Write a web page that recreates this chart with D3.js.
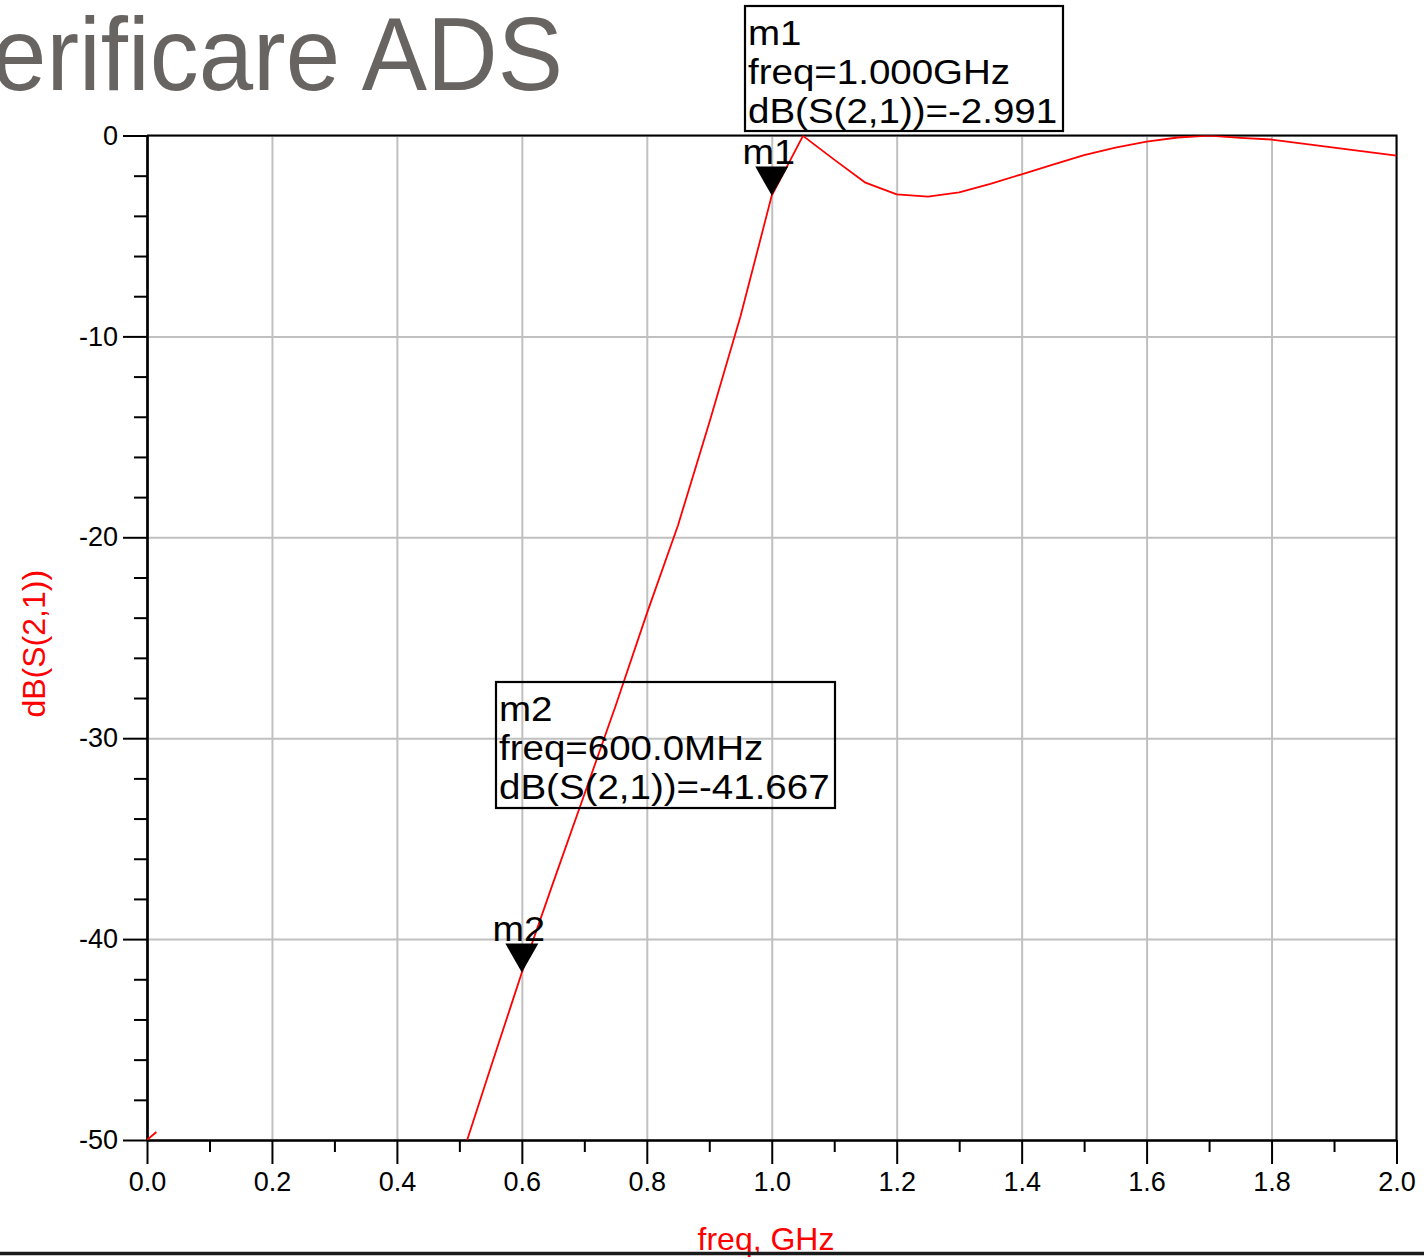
<!DOCTYPE html>
<html lang="ro">
<head>
<meta charset="UTF-8">
<script src="https://d3js.org/d3.v7.min.js"></script>
<style>
  body { margin: 0; background: #fff; overflow: hidden; }
  svg { display: block; font-family: "Liberation Sans", Arial, sans-serif; }
</style>
</head>
<body>
<svg id="chart" width="1424" height="1259"></svg>
<script>
// S21 sweep (GHz, dB)
const freqGHz = [0.50, 0.55, 0.60, 0.65, 0.70, 0.75, 0.80, 0.85, 0.90, 0.95,
                 1.00, 1.05, 1.10, 1.15, 1.20, 1.25, 1.30, 1.35, 1.40, 1.45,
                 1.50, 1.55, 1.60, 1.65, 1.70, 1.75, 1.80, 1.85, 1.90, 1.95, 2.00];
const s21dB = [-51.2, -46.4, -41.667, -37.2, -32.8, -28.4, -23.8, -19.4, -14.3, -9.0,
               -2.991, -0.02, -1.2, -2.35, -2.93, -3.04, -2.83, -2.41, -1.93, -1.45,
               -0.98, -0.6, -0.3, -0.1, -0.01, -0.12, -0.2, -0.4, -0.6, -0.8, -1.0];
// short stub visible at DC
const dcFreq = [0, 0.015];
const dcDb = [-50, -49.6];

const xTicks = [0, 0.2, 0.4, 0.6, 0.8, 1.0, 1.2, 1.4, 1.6, 1.8, 2.0];
const xMinor = [0.1, 0.3, 0.5, 0.7, 0.9, 1.1, 1.3, 1.5, 1.7, 1.9];
const yTicks = [0, -10, -20, -30, -40, -50];
const yMinor = [-2, -4, -6, -8, -12, -14, -16, -18, -22, -24, -26, -28,
                -32, -34, -36, -38, -42, -44, -46, -48];

const markerNames = ["m1", "m2"];
const markerFreqs = [1.0, 0.6];
const markerFreqText = ["1.000GHz", "600.0MHz"];

const svg = d3.select("#chart");
const x = d3.scaleLinear().domain([0, 2]).range([147, 1396.5]);
const y = d3.scaleLinear().domain([-50, 0]).range([1140, 135.5]);

// title (cut at the left edge like the slide)
svg.append("text")
    .attr("transform", "translate(563,90) scale(0.95,1)")
    .attr("text-anchor", "end")
    .style("font-size", "103px")
    .style("fill", "#686462")
    .text("Verificare ADS");

// grid
svg.append("g")
    .attr("transform", `translate(0,${y(-50)})`)
    .call(d3.axisBottom(x).tickValues(xTicks).tickSize(-(y(-50) - y(0))).tickFormat(""))
    .call(g => g.select(".domain").remove())
    .call(g => g.selectAll("line").attr("stroke", "#c0c0c0").attr("stroke-width", 2));
svg.append("g")
    .attr("transform", `translate(${x(0)},0)`)
    .call(d3.axisLeft(y).tickValues(yTicks).tickSize(-(x(2) - x(0))).tickFormat(""))
    .call(g => g.select(".domain").remove())
    .call(g => g.selectAll("line").attr("stroke", "#c0c0c0").attr("stroke-width", 2));

// frame top + right
svg.append("path")
    .attr("d", `M${x(0)},${y(0)}H${x(2)}V${y(-50)}`)
    .attr("fill", "none").attr("stroke", "#000").attr("stroke-width", 2);

// axes
const axisStyle = g => {
    g.select(".domain").attr("stroke", "#000").attr("stroke-width", 2.2);
    g.selectAll("line").attr("stroke", "#000").attr("stroke-width", 2);
    g.selectAll("text").attr("fill", "#000").style("font-size", "27px")
        .style("font-family", "'Liberation Sans', Arial, sans-serif");
};
svg.append("g")
    .attr("transform", `translate(${x(0)},0)`)
    .call(d3.axisLeft(y).tickValues(yMinor).tickSize(13).tickSizeOuter(0).tickFormat(""))
    .call(axisStyle);
svg.append("g")
    .attr("transform", `translate(${x(0)},0)`)
    .call(d3.axisLeft(y).tickValues(yTicks).tickSize(24).tickSizeOuter(0).tickPadding(5)
        .tickFormat(d => String(d)))
    .call(axisStyle);
svg.append("g")
    .attr("transform", `translate(0,${y(-50)})`)
    .call(d3.axisBottom(x).tickValues(xMinor).tickSize(12).tickSizeOuter(0).tickFormat(""))
    .call(axisStyle);
svg.append("g")
    .attr("transform", `translate(0,${y(-50)})`)
    .call(d3.axisBottom(x).tickValues(xTicks).tickSize(24).tickSizeOuter(0).tickPadding(8)
        .tickFormat(d3.format(".1f")))
    .call(axisStyle);

// axis titles
svg.append("text")
    .attr("transform", `translate(45,${(y(0) + y(-50)) / 2 + 6}) rotate(-90)`)
    .attr("text-anchor", "middle")
    .style("font-size", "32px").style("fill", "#ff0000")
    .text("dB(S(2,1))");
svg.append("text")
    .attr("x", 766)
    .attr("y", 1250)
    .attr("text-anchor", "middle")
    .style("font-size", "32px").style("fill", "#ff0000")
    .text("freq, GHz");

// curve
svg.append("clipPath").attr("id", "plotClip")
    .append("rect")
    .attr("x", x(0)).attr("y", y(0))
    .attr("width", x(2) - x(0)).attr("height", y(-50) - y(0));

const line = d3.line().x(d => x(d[0])).y(d => y(d[1]));
const plot = svg.append("g").attr("clip-path", "url(#plotClip)");
plot.append("path")
    .datum(d3.zip(dcFreq, dcDb))
    .attr("fill", "none").attr("stroke", "#ff0000").attr("stroke-width", 1.8)
    .attr("d", line);

// markers (triangles under the trace)
markerNames.forEach((name, i) => {
    const f = markerFreqs[i];
    const v = s21dB[freqGHz.indexOf(f)];
    const px = x(f), py = y(v);
    svg.append("path")
        .attr("d", `M${px},${py}L${px - 16.5},${py - 29}L${px + 16.5},${py - 29}Z`)
        .attr("fill", "#000");
    svg.append("text")
        .attr("transform", `translate(${px - 3},${py - 32}) scale(1.08,1)`)
        .attr("text-anchor", "middle")
        .style("font-size", "35px").style("fill", "#000")
        .text(name);
});

plot.append("path")
    .datum(d3.zip(freqGHz, s21dB))
    .attr("fill", "none").attr("stroke", "#ff0000").attr("stroke-width", 1.8)
    .attr("stroke-linejoin", "round")
    .attr("d", line);

// marker readout boxes
const boxPos = [{ x: 745, y: 6, w: 318, h: 125 }, { x: 496, y: 682, w: 339, h: 126 }];
markerNames.forEach((name, i) => {
    const f = markerFreqs[i];
    const v = s21dB[freqGHz.indexOf(f)];
    const b = boxPos[i];
    const g = svg.append("g");
    g.append("rect")
        .attr("x", b.x).attr("y", b.y).attr("width", b.w).attr("height", b.h)
        .attr("fill", "none").attr("stroke", "#000").attr("stroke-width", 2.2);
    const lines = [name, "freq=" + markerFreqText[i], "dB(S(2,1))=" + v.toFixed(3)];
    lines.forEach((t, k) => {
        g.append("text")
            .attr("transform", `translate(${b.x + 3},${b.y + 39 + k * 38.8}) scale(1.1,1)`)
            .style("font-size", "35px").style("fill", "#000")
            .text(t);
    });
});

// slide underline
svg.append("line")
    .attr("x1", 0).attr("x2", 1424).attr("y1", 1253.5).attr("y2", 1253.5)
    .attr("stroke", "#1a1a1a").attr("stroke-width", 3.5);
</script>
</body>
</html>
